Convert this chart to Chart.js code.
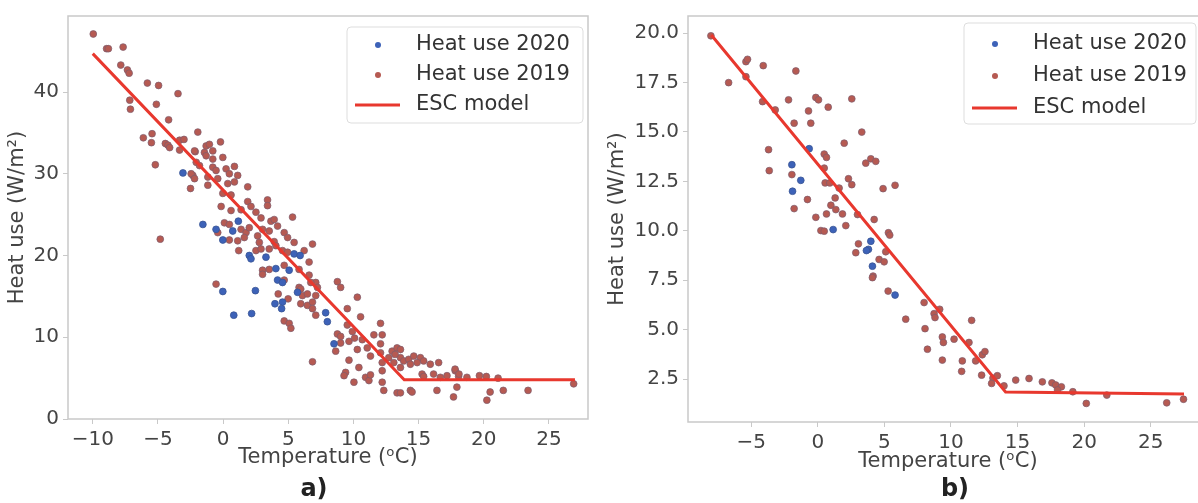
<!DOCTYPE html>
<html>
<head>
<meta charset="utf-8">
<script src="https://cdn.jsdelivr.net/npm/chart.js@4.4.1/dist/chart.umd.min.js"></script>
<style>
  body { margin: 0; width: 1198px; height: 503px; overflow: hidden; background: #fff; position: relative; }
  canvas { position: absolute; top: 0; }
  #chartA { left: 0; }
  #chartB { left: 600px; }
</style>
</head>
<body>
<canvas id="chartA" width="600" height="503"></canvas>
<canvas id="chartB" width="620" height="503"></canvas>
<script>
const seriesLabels = ['Heat use 2020', 'Heat use 2019', 'ESC model'];
const xTitle = 'Temperature (\u1D52C)';
const yTitle = 'Heat use (W/m\u00B2)';

// panel a) : [temperature, heat use]
const heat2020A = [
  [-3.08, 30.1], [-1.55, 23.8], [-0.54, 23.2], [0.74, 23.0], [1.17, 24.2], [-0.02, 21.9],
  [2.01, 20.0], [2.14, 19.6], [3.29, 19.8], [5.45, 20.2], [5.91, 20.0], [4.05, 18.4],
  [5.07, 18.2], [4.18, 17.0], [-0.02, 15.6], [2.48, 15.7], [0.82, 12.7], [2.19, 12.9],
  [4.56, 16.7], [3.98, 14.1], [4.56, 14.3], [4.49, 13.5], [5.71, 15.5], [7.87, 13.0],
  [8.0, 11.9], [8.51, 9.2]
];
const heat2019A = [
  [-9.96, 47.1], [-8.94, 45.3], [-8.8, 45.3], [-7.67, 45.5], [-7.85, 43.3], [-7.34, 42.7],
  [-7.21, 42.3], [-5.81, 41.1], [-4.95, 40.8], [-3.46, 39.8], [-7.16, 39.0], [-7.11, 37.9],
  [-5.12, 38.5], [-4.18, 36.6], [-6.12, 34.4], [-5.45, 34.9], [-5.5, 33.8], [-4.43, 33.7],
  [-4.23, 33.5], [-4.1, 33.2], [-3.34, 34.1], [-3.0, 34.2], [-3.34, 32.9], [-1.94, 35.1],
  [-5.2, 31.1], [-2.14, 32.7], [-1.3, 33.4], [-1.05, 33.6], [-0.2, 33.9], [-1.43, 32.6],
  [-0.79, 31.8], [-0.02, 32.0], [-2.06, 31.4], [-1.81, 31.0], [-0.79, 30.8], [-0.54, 30.4],
  [0.23, 30.6], [0.87, 30.9], [-2.32, 29.8], [-1.17, 29.6], [-0.41, 29.4], [0.48, 30.0],
  [1.12, 29.8], [0.36, 28.8], [0.87, 29.0], [1.89, 28.4], [-1.17, 28.6], [-2.45, 30.0],
  [-2.19, 29.4], [-2.5, 28.2], [-2.19, 32.8], [-1.3, 32.2], [-0.79, 32.8],
  [-0.02, 27.6], [0.61, 27.4], [-0.15, 26.0], [0.61, 25.5], [1.38, 25.6], [1.89, 26.6],
  [2.14, 26.0], [2.52, 25.3], [3.41, 26.8], [3.41, 26.1], [2.91, 24.6], [3.67, 24.2],
  [3.92, 24.4], [5.33, 24.7], [-4.82, 22.0], [-0.41, 22.8], [0.1, 24.0], [0.48, 23.8],
  [1.38, 23.2], [1.76, 22.8], [2.01, 23.4], [0.48, 21.9], [1.12, 21.8], [1.63, 22.2],
  [2.65, 22.4], [3.03, 23.2], [3.54, 23.0], [4.18, 23.6], [4.69, 22.8], [4.95, 22.2],
  [5.45, 21.6], [2.78, 21.6], [3.92, 21.7], [1.2, 20.6], [2.52, 20.6], [2.91, 20.8],
  [3.54, 20.8], [4.05, 21.2], [4.56, 20.6], [4.95, 20.4], [6.22, 20.6], [6.86, 21.4],
  [6.6, 19.2], [3.03, 18.2], [3.54, 18.3], [4.69, 18.8], [5.83, 18.3], [6.6, 17.6],
  [7.11, 16.7], [8.77, 16.8], [9.02, 16.1], [7.24, 16.1], [4.69, 17.0], [-0.54, 16.5],
  [5.83, 16.1], [3.03, 17.7], [6.73, 16.7], [5.96, 15.9],
  [4.23, 15.3], [4.99, 14.7], [4.69, 12.0], [5.07, 11.7], [5.2, 11.1], [6.09, 15.1],
  [6.47, 15.3], [5.96, 14.1], [6.47, 13.9], [6.86, 14.3], [7.11, 15.1], [6.86, 13.5],
  [7.11, 12.7], [6.86, 7.0], [9.53, 13.5], [8.77, 10.4], [9.02, 10.1], [9.53, 11.5],
  [9.92, 10.7], [10.3, 14.9], [10.55, 12.5], [9.66, 9.5], [10.09, 9.9], [10.68, 9.7],
  [9.66, 7.2], [10.3, 8.5], [9.4, 5.7], [9.28, 5.3], [10.04, 4.5], [10.93, 5.1],
  [11.19, 4.7], [11.31, 5.4], [12.08, 11.7], [12.21, 10.3], [11.31, 7.7], [12.08, 8.1],
  [12.08, 9.2], [11.57, 10.3], [12.21, 5.9], [12.21, 4.5], [12.33, 3.5], [11.06, 8.7],
  [10.42, 6.3], [12.97, 8.3], [13.35, 8.7], [13.61, 8.5], [13.61, 7.5], [13.86, 7.1],
  [14.24, 7.3], [14.63, 7.7], [15.14, 7.5], [15.39, 7.1], [14.89, 6.9], [14.37, 6.7],
  [13.61, 6.3], [13.1, 6.9], [12.71, 7.5], [15.27, 5.5], [15.9, 6.7], [16.54, 6.9],
  [16.15, 5.5], [16.67, 5.1], [17.18, 5.3], [17.81, 5.9], [18.07, 5.2], [17.94, 3.9],
  [17.68, 2.7], [16.41, 3.5], [14.37, 3.5], [13.35, 3.2], [13.61, 3.2], [15.39, 5.2],
  [12.21, 6.9], [18.71, 5.1], [19.67, 5.3], [20.49, 3.3], [20.24, 2.3], [21.1, 5.0],
  [9.02, 9.3], [8.64, 8.3], [20.2, 5.2], [21.5, 3.5], [23.4, 3.5], [26.9, 4.3],
  [13.2, 7.9], [17.8, 6.1], [18.1, 5.5], [14.5, 3.3]
];
const escTempA = [-10.0, 13.9, 27.0];
const escHeatA = [44.7, 4.8, 4.8];

// panel b)
const heat2020B = [
  [-0.65, 14.15], [-1.95, 13.34], [-1.28, 12.55], [-1.9, 12.0], [1.15, 10.06], [3.8, 9.06],
  [3.65, 9.0], [3.98, 9.47], [4.1, 8.21], [5.8, 6.75]
];
const heat2019B = [
  [-8.03, 19.86], [-6.7, 17.49], [-5.4, 18.55], [-5.28, 18.67], [-5.4, 17.79], [-4.1, 18.35],
  [-4.15, 16.53], [-3.2, 16.11], [-3.7, 14.1], [-3.65, 13.04], [-2.2, 16.62], [-1.65, 18.08],
  [-1.78, 15.44], [-0.7, 16.06], [-0.53, 15.44], [-0.15, 16.74], [0.05, 16.62], [0.78, 16.25],
  [2.55, 16.67], [-1.95, 12.84], [-1.78, 11.12], [-0.78, 11.58], [-0.15, 10.68], [0.23, 10.01],
  [0.48, 9.98], [0.48, 13.88], [0.65, 13.71], [0.48, 13.17], [0.55, 12.42], [0.9, 12.42],
  [1.6, 12.16], [1.3, 11.66], [0.65, 10.85], [0.98, 11.29], [1.35, 11.07], [1.85, 10.85],
  [2.1, 10.26], [1.98, 14.43], [2.3, 12.63], [2.55, 12.33], [3.3, 14.99], [3.6, 13.42],
  [3.98, 13.64], [4.35, 13.51], [4.9, 12.13], [5.8, 12.3], [2.98, 10.82], [4.23, 10.57],
  [3.05, 9.34], [2.85, 8.89], [5.3, 9.9], [5.4, 9.78], [5.1, 8.94], [4.6, 8.55],
  [4.98, 8.43], [4.15, 7.71], [4.1, 7.63], [5.28, 6.95], [6.6, 5.53], [7.98, 6.37],
  [8.05, 5.05], [8.23, 4.01], [8.73, 5.81], [8.8, 5.61], [9.15, 6.03], [9.35, 4.63],
  [9.43, 4.35], [10.23, 4.52], [9.35, 3.46], [10.85, 3.42], [10.8, 2.89], [11.35, 4.35],
  [11.55, 5.47], [11.85, 3.42], [12.35, 3.73], [12.55, 3.89], [12.3, 2.7], [13.15, 2.55],
  [13.48, 2.67], [13.05, 2.28], [13.98, 2.16], [14.86, 2.45], [15.86, 2.53], [16.86, 2.36],
  [17.58, 2.31], [17.86, 2.2], [18.29, 2.11], [18.0, 1.95], [19.15, 1.86], [20.16, 1.27],
  [21.7, 1.69], [26.2, 1.3], [27.46, 1.48]
];
const escTempB = [-8.0, 14.1, 27.5];
const escHeatB = [19.9, 1.85, 1.75];

const FONT = '"DejaVu Sans", sans-serif';
const TEXT = '#444';
const SPINE = '#c9c9c9';

Chart.defaults.font.family = FONT;
Chart.defaults.color = TEXT;

const toPoints = pairs => pairs.map(([x, y]) => ({ x, y }));
const zipLine = (xs, ys) => xs.map((x, i) => ({ x, y: ys[i] }));
const signed = v => (v < 0 ? '\u2212' + Math.abs(v) : String(v));

// box around the plotting area (all four sides)
const frame = {
  id: 'frame',
  beforeDatasetsDraw(chart) {
    const { ctx, chartArea: a } = chart;
    ctx.save();
    ctx.strokeStyle = SPINE;
    ctx.lineWidth = 1.5;
    ctx.strokeRect(a.left, a.top, a.right - a.left, a.bottom - a.top);
    ctx.restore();
  }
};

// legend drawn inside the upper right corner of the plot
const insideLegend = {
  id: 'insideLegend',
  afterDatasetsDraw(chart, args, opts) {
    const { ctx, chartArea: a } = chart;
    const x0 = a.right - opts.right - opts.width;
    const y0 = a.top + opts.top;
    ctx.save();
    ctx.beginPath();
    ctx.roundRect(x0, y0, opts.width, opts.height, 4);
    ctx.fillStyle = 'rgba(255,255,255,0.85)';
    ctx.fill();
    ctx.strokeStyle = '#dddddd';
    ctx.lineWidth = 1;
    ctx.stroke();
    ctx.font = '21px ' + FONT;
    ctx.textBaseline = 'middle';
    chart.data.datasets.forEach((ds, i) => {
      const y = y0 + opts.firstRow + i * opts.rowGap;
      if (ds.showLine) {
        ctx.strokeStyle = ds.borderColor;
        ctx.lineWidth = ds.borderWidth;
        ctx.beginPath();
        ctx.moveTo(x0 + 8, y);
        ctx.lineTo(x0 + 53, y);
        ctx.stroke();
      } else {
        ctx.beginPath();
        ctx.arc(x0 + 31, y, 3, 0, Math.PI * 2);
        ctx.fillStyle = ds.backgroundColor;
        ctx.fill();
      }
      ctx.fillStyle = '#333';
      ctx.fillText(ds.label, x0 + 69, y);
    });
    ctx.restore();
  }
};

const panelLabel = {
  id: 'panelLabel',
  afterDraw(chart, args, opts) {
    const { ctx } = chart;
    ctx.save();
    ctx.font = 'bold 24px ' + FONT;
    ctx.fillStyle = '#222';
    ctx.textAlign = 'center';
    ctx.textBaseline = 'middle';
    ctx.fillText(opts.text, opts.x, opts.y);
    ctx.restore();
  }
};

function makeChart(id, p) {
  return new Chart(document.getElementById(id), {
    type: 'scatter',
    data: {
      datasets: [
        {
          label: seriesLabels[0],
          data: toPoints(p.d2020),
          backgroundColor: '#3d62b8',
          borderColor: '#3a5694',
          borderWidth: 0.8,
          pointRadius: 3.4,
          order: 1
        },
        {
          label: seriesLabels[1],
          data: toPoints(p.d2019),
          backgroundColor: '#b65a52',
          borderColor: 'rgba(125,92,108,0.9)',
          borderWidth: 0.8,
          pointRadius: 3.4,
          order: 2
        },
        {
          label: seriesLabels[2],
          data: zipLine(p.escX, p.escY),
          showLine: true,
          borderColor: '#e8382e',
          backgroundColor: '#e8382e',
          borderWidth: 3,
          pointRadius: 0,
          order: 0
        }
      ]
    },
    options: {
      responsive: false,
      animation: false,
      events: [],
      layout: { padding: p.padding },
      scales: {
        x: {
          type: 'linear',
          min: p.xMin, max: p.xMax,
          afterFit: s => { s.height = p.xAxisHeight; },
          border: { display: false },
          grid: { drawOnChartArea: false, drawTicks: true, tickLength: 5, color: SPINE },
          ticks: {
            stepSize: 5, includeBounds: false, padding: 4, autoSkip: false,
            maxRotation: 0, font: { size: 20 }, color: TEXT,
            callback: v => signed(v)
          },
          title: { display: true, text: xTitle, font: { size: 21 }, color: TEXT, padding: { top: 0, bottom: p.xTitlePad } }
        },
        y: {
          type: 'linear',
          min: p.yMin, max: p.yMax,
          afterFit: s => { s.width = p.yAxisWidth; },
          border: { display: false },
          grid: { drawOnChartArea: false, drawTicks: true, tickLength: 5, color: SPINE },
          ticks: {
            stepSize: p.yStep, includeBounds: false, padding: 4, autoSkip: false,
            font: { size: 20 }, color: TEXT,
            callback: p.yFormat
          },
          title: { display: true, text: yTitle, font: { size: 21 }, color: TEXT, padding: { top: 5.4, bottom: 0 } }
        }
      },
      plugins: {
        legend: { display: false },
        tooltip: { enabled: false },
        insideLegend: p.legend,
        panelLabel: p.label
      }
    },
    plugins: [frame, insideLegend, panelLabel]
  });
}

makeChart('chartA', {
  d2020: heat2020A, d2019: heat2019A, escX: escTempA, escY: escHeatA,
  xMin: -11.9, xMax: 28.0, yMin: 0, yMax: 49.3, yStep: 10,
  yFormat: v => String(v),
  padding: { left: 0, top: 10, right: 12, bottom: 30 },
  xAxisHeight: 54, yAxisWidth: 68, xTitlePad: 2.4,
  legend: { right: 5, top: 11, width: 236, height: 96, firstRow: 18, rowGap: 30 },
  label: { text: 'a)', x: 314, y: 490 }
});

makeChart('chartB', {
  d2020: heat2020B, d2019: heat2019B, escX: escTempB, escY: escHeatB,
  xMin: -9.75, xMax: 29.3, yMin: 0.33, yMax: 20.86, yStep: 2.5,
  yFormat: v => v.toFixed(1),
  padding: { left: 0, top: 15, right: 12, bottom: 27 },
  xAxisHeight: 54, yAxisWidth: 88, xTitlePad: 1.4,
  legend: { right: 12, top: 7, width: 232, height: 101, firstRow: 21, rowGap: 32 },
  label: { text: 'b)', x: 355, y: 490 }
});
</script>
</body>
</html>
